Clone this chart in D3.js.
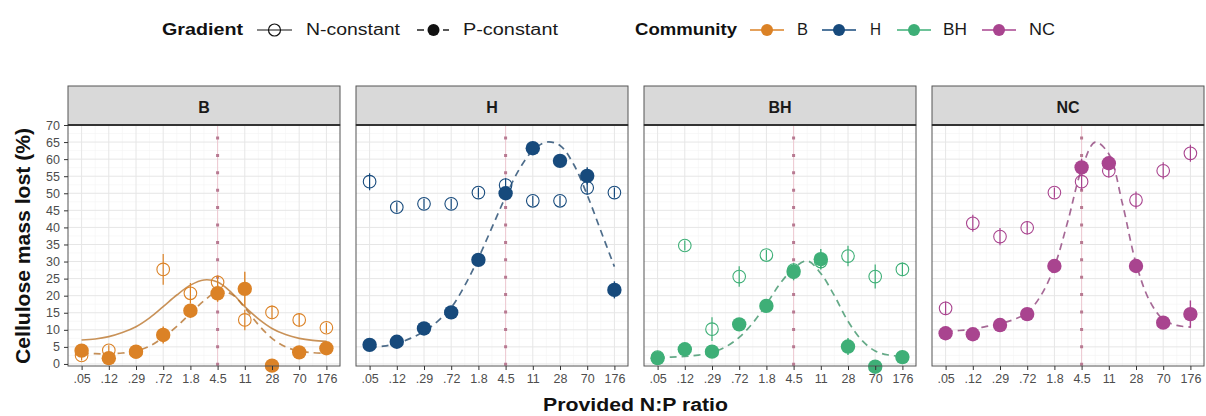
<!DOCTYPE html>
<html>
<head>
<meta charset="utf-8">
<script src="https://cdn.jsdelivr.net/npm/d3@7"></script>
<style>
  html, body { margin: 0; padding: 0; background: #fff; }
  svg { display: block; font-family: "Liberation Sans", Arial, Helvetica, sans-serif; }
</style>
</head>
<body>
<svg id="chart" width="1206" height="416"></svg>
<script>
// ---------------- DATA ----------------
const categories = [".05", ".12", ".29", ".72", "1.8", "4.5", "11", "28", "70", "176"];
const communities = ["B", "H", "BH", "NC"];
const communityColors = ["#DB8226", "#174A7C", "#3EAF77", "#A9448F"];
const yTicks = [0, 5, 10, 15, 20, 25, 30, 35, 40, 45, 50, 55, 60, 65, 70];

// N-constant (open circles) means and errors
const nConstB   = [2.5, 4.0, 3.5, 27.7, 20.7, 23.9, 12.9, 15.1, 12.9, 10.6];
const nErrB     = [1.5, 1.5, 1.0, 4.5, 3.0, 2.0, 3.0, 2.0, 2.0, 1.5];
const nConstH   = [53.4, 45.9, 46.9, 46.9, 50.2, 52.4, 47.8, 47.8, 51.6, 50.2];
const nErrH     = [2.5, 1.5, 1.5, 1.5, 1.5, 2.0, 1.5, 1.5, 2.0, 1.5];
const nConstBH  = [2.0, 34.7, 10.2, 25.6, 31.9, 27.5, 30.0, 31.6, 25.6, 27.7];
const nErrBH    = [1.0, 1.5, 3.5, 3.0, 1.5, 1.5, 2.0, 3.0, 3.5, 2.0];
const nConstNC  = [16.3, 41.2, 37.3, 39.9, 50.2, 53.4, 56.6, 48.0, 56.6, 61.7];
const nErrNC    = [2.0, 2.5, 2.5, 2.0, 1.5, 2.5, 2.0, 2.5, 2.5, 2.5];

// P-constant (filled circles) means and errors
const pConstB   = [3.9, 1.7, 3.6, 8.5, 15.6, 20.7, 22.0, -0.5, 3.4, 4.6];
const pErrB     = [1.5, 1.5, 1.0, 2.5, 2.0, 2.5, 5.0, 1.0, 1.0, 1.5];
const pConstH   = [5.6, 6.5, 10.4, 15.1, 30.5, 50.0, 63.2, 59.5, 55.1, 21.7];
const pErrH     = [1.0, 1.0, 1.0, 1.0, 1.0, 1.5, 1.0, 1.5, 2.5, 2.5];
const pConstBH  = [1.7, 4.3, 3.6, 11.6, 17.0, 27.0, 30.7, 5.1, -0.8, 2.0];
const pErrBH    = [1.5, 1.0, 1.0, 1.0, 1.0, 2.5, 3.0, 2.5, 1.0, 2.0];
const pConstNC  = [9.0, 8.7, 11.4, 14.6, 28.7, 57.6, 58.8, 28.7, 12.1, 14.6];
const pErrNC    = [2.0, 1.0, 1.0, 1.0, 1.5, 2.5, 2.0, 2.0, 1.0, 4.0];

// fitted curves at half-category steps
const curveIndex = [0, 0.5, 1, 1.5, 2, 2.5, 3, 3.5, 4, 4.5, 5, 5.5, 6, 6.5, 7, 7.5, 8, 8.5, 9];
const fitNB  = [7.0, 7.3, 8.0, 9.2, 10.9, 13.5, 16.8, 20.2, 23.1, 24.6, 24.0, 21.0, 16.8, 13.2, 10.4, 8.6, 7.5, 6.9, 6.6];
const fitPB  = [3.2, 3.0, 3.0, 3.2, 3.8, 5.2, 7.8, 11.0, 14.8, 18.5, 21.2, 20.5, 16.5, 11.5, 7.5, 5.0, 3.8, 3.3, 3.1];
const fitPH  = [4.8, 5.2, 6.0, 7.5, 9.5, 12.5, 16.5, 23.0, 31.0, 40.0, 49.0, 57.0, 62.5, 65.0, 64.0, 58.5, 49.5, 39.0, 28.5];
const fitPBH = [2.0, 2.0, 2.2, 2.6, 3.4, 5.0, 7.8, 12.0, 17.5, 23.5, 28.0, 30.2, 26.5, 20.0, 12.5, 7.0, 3.8, 2.6, 2.2];
const fitPNC = [9.5, 9.8, 10.2, 11.0, 11.8, 13.0, 15.0, 20.0, 28.5, 42.0, 57.0, 65.0, 61.5, 47.0, 29.5, 18.5, 13.0, 11.3, 10.8];

const nConst = [nConstB, nConstH, nConstBH, nConstNC];
const nErr   = [nErrB, nErrH, nErrBH, nErrNC];
const pConst = [pConstB, pConstH, pConstBH, pConstNC];
const pErr   = [pErrB, pErrH, pErrBH, pErrNC];
const fitN   = [fitNB, null, null, null];
const fitP   = [fitPB, fitPH, fitPBH, fitPNC];
const refRatio = "4.5";

// ---------------- LAYOUT ----------------
const svg = d3.select("#chart");
const panelW = 272, panelGap = 16, panelLeft0 = 68;
const stripTop = 86, plotTop = 125, plotBottom = 366;
const font = '"Liberation Sans", Arial, Helvetica, sans-serif';

const y = d3.scaleLinear().domain([-0.6, 70]).range([plotBottom, plotTop]);

communities.forEach((comm, ci) => {
  const left = panelLeft0 + ci * (panelW + panelGap);
  const right = left + panelW;
  const color = communityColors[ci];
  const x = d3.scalePoint().domain(categories).range([left, right]).padding(0.5);
  const xi = d3.scaleLinear().domain([0, categories.length - 1])
    .range([x(categories[0]), x(categories[categories.length - 1])]);

  const g = svg.append("g");

  // minor grid
  const minorY = d3.range(2.5, 70, 5);
  g.selectAll(".ymin").data(minorY).join("line")
    .attr("x1", left).attr("x2", right)
    .attr("y1", d => y(d)).attr("y2", d => y(d))
    .attr("stroke", "#F3F3F3").attr("stroke-width", 0.6);
  g.selectAll(".xmin").data(d3.range(0.5, 9, 1)).join("line")
    .attr("x1", d => xi(d)).attr("x2", d => xi(d))
    .attr("y1", plotTop).attr("y2", plotBottom)
    .attr("stroke", "#F3F3F3").attr("stroke-width", 0.6);
  // major grid
  g.selectAll(".ymaj").data(yTicks).join("line")
    .attr("x1", left).attr("x2", right)
    .attr("y1", d => y(d)).attr("y2", d => y(d))
    .attr("stroke", "#E6E6E6").attr("stroke-width", 1);
  g.selectAll(".xmaj").data(categories).join("line")
    .attr("x1", d => x(d)).attr("x2", d => x(d))
    .attr("y1", plotTop).attr("y2", plotBottom)
    .attr("stroke", "#E6E6E6").attr("stroke-width", 1);

  // reference dotted line
  g.append("line")
    .attr("x1", x(refRatio)).attr("x2", x(refRatio))
    .attr("y1", plotTop).attr("y2", plotBottom)
    .attr("stroke", "#F4B6C4").attr("stroke-width", 1).attr("opacity", 0.6);
  g.append("line")
    .attr("x1", x(refRatio)).attr("x2", x(refRatio))
    .attr("y1", plotTop + 11.5).attr("y2", plotBottom)
    .attr("stroke", "#B87A92").attr("stroke-width", 3)
    .attr("stroke-dasharray", "3,14.4");

  // fitted curves
  const line = d3.line().x((d, i) => xi(curveIndex[i])).y(d => y(d)).curve(d3.curveCatmullRom);
  if (fitN[ci]) {
    g.append("path").datum(fitN[ci]).attr("d", line)
      .attr("fill", "none").attr("stroke", d3.color(color).darker(0.5)).attr("stroke-opacity", 0.75)
      .attr("stroke-width", 1.6);
  }
  g.append("path").datum(fitP[ci]).attr("d", line)
    .attr("fill", "none").attr("stroke", d3.color(color).darker(0.6)).attr("stroke-opacity", 0.75)
    .attr("stroke-width", 1.7).attr("stroke-dasharray", "7,5");

  // error bars
  const nData = categories.map((c, i) => ({ c, v: nConst[ci][i], e: nErr[ci][i] }));
  const pData = categories.map((c, i) => ({ c, v: pConst[ci][i], e: pErr[ci][i] }));
  g.selectAll(".nerr").data(nData).join("line")
    .attr("x1", d => x(d.c)).attr("x2", d => x(d.c))
    .attr("y1", d => y(d.v - d.e)).attr("y2", d => y(d.v + d.e))
    .attr("stroke", color).attr("stroke-width", 1.2);
  g.selectAll(".ncirc").data(nData).join("circle")
    .attr("cx", d => x(d.c)).attr("cy", d => y(d.v)).attr("r", 6.3)
    .attr("fill", "none").attr("stroke", color).attr("stroke-width", 1.1);
  g.selectAll(".perr").data(pData).join("line")
    .attr("x1", d => x(d.c)).attr("x2", d => x(d.c))
    .attr("y1", d => y(d.v - d.e)).attr("y2", d => y(d.v + d.e))
    .attr("stroke", color).attr("stroke-width", 1.4);
  g.selectAll(".pcirc").data(pData).join("circle")
    .attr("cx", d => x(d.c)).attr("cy", d => y(d.v)).attr("r", 7.2)
    .attr("fill", color);

  // panel border
  g.append("rect").attr("x", left).attr("y", plotTop).attr("width", panelW)
    .attr("height", plotBottom - plotTop).attr("fill", "none")
    .attr("stroke", "#555").attr("stroke-width", 1);

  // strip
  g.append("rect").attr("x", left).attr("y", stripTop).attr("width", panelW)
    .attr("height", plotTop - stripTop).attr("fill", "#D9D9D9")
    .attr("stroke", "#555").attr("stroke-width", 1);
  g.append("line").attr("x1", left).attr("x2", right).attr("y1", plotTop).attr("y2", plotTop)
    .attr("stroke", "#333").attr("stroke-width", 1.8);
  g.append("text").attr("x", (left + right) / 2).attr("y", 113)
    .attr("text-anchor", "middle").attr("font-weight", "bold").attr("font-size", 16)
    .attr("fill", "#1A1A1A").text(comm);

  // x axis
  const xAxis = g.append("g").attr("transform", `translate(0,${plotBottom})`)
    .call(d3.axisBottom(x).tickSize(4).tickPadding(4));
  xAxis.select(".domain").remove();
  xAxis.selectAll(".tick line").attr("stroke", "#333");
  xAxis.selectAll(".tick text").attr("fill", "#4D4D4D").attr("font-size", 12.5).attr("font-family", font);

  if (ci === 0) {
    const yAxis = g.append("g").attr("transform", `translate(${left},0)`)
      .call(d3.axisLeft(y).tickValues(yTicks).tickSize(4).tickPadding(4));
    yAxis.select(".domain").remove();
    yAxis.selectAll(".tick line").attr("stroke", "#333");
    yAxis.selectAll(".tick text").attr("fill", "#4D4D4D").attr("font-size", 12.5).attr("font-family", font);
  }
});

// axis titles
svg.append("text").attr("transform", "translate(30,246) rotate(-90)")
  .attr("text-anchor", "middle").attr("font-weight", "bold").attr("font-size", 20)
  .attr("fill", "#111").attr("textLength", 236).attr("lengthAdjust", "spacingAndGlyphs")
  .text("Cellulose mass lost (%)");
svg.append("text").attr("x", 635.5).attr("y", 411)
  .attr("text-anchor", "middle").attr("font-weight", "bold").attr("font-size", 18)
  .attr("fill", "#111").attr("textLength", 185).attr("lengthAdjust", "spacingAndGlyphs")
  .text("Provided N:P ratio");

// ---------------- LEGEND ----------------
const legY = 30, legBase = 35;
const leg = svg.append("g");
function legText(x0, w, txt, bold) {
  leg.append("text").attr("x", x0).attr("y", legBase).attr("font-size", 16)
    .attr("font-weight", bold ? "bold" : "normal").attr("fill", bold ? "#111" : "#1A1A1A")
    .attr("textLength", w).attr("lengthAdjust", "spacingAndGlyphs").text(txt);
}
legText(162, 81, "Gradient", true);
// N-constant key: solid line through an open circle
leg.append("line").attr("x1", 257).attr("x2", 292).attr("y1", legY).attr("y2", legY)
  .attr("stroke", "#111").attr("stroke-width", 1.2);
leg.append("circle").attr("cx", 274.5).attr("cy", legY).attr("r", 6)
  .attr("fill", "none").attr("stroke", "#111").attr("stroke-width", 1.2);
legText(306, 94, "N-constant", false);
// P-constant key: dash, filled circle, dash
leg.append("line").attr("x1", 417).attr("x2", 424).attr("y1", legY).attr("y2", legY)
  .attr("stroke", "#111").attr("stroke-width", 1.4);
leg.append("line").attr("x1", 443).attr("x2", 449).attr("y1", legY).attr("y2", legY)
  .attr("stroke", "#111").attr("stroke-width", 1.4);
leg.append("circle").attr("cx", 433.5).attr("cy", legY).attr("r", 6).attr("fill", "#111");
legText(463, 95, "P-constant", false);

legText(635, 102, "Community", true);
const commKeyX = [750, 822, 897, 982];
const commTextX = [797, 870, 943, 1029];
const commTextW = [11, 11, 24, 26];
communities.forEach((c, i) => {
  leg.append("line").attr("x1", commKeyX[i]).attr("x2", commKeyX[i] + 34)
    .attr("y1", legY).attr("y2", legY).attr("stroke", communityColors[i]).attr("stroke-width", 1.4);
  leg.append("circle").attr("cx", commKeyX[i] + 17).attr("cy", legY).attr("r", 6)
    .attr("fill", communityColors[i]);
  legText(commTextX[i], commTextW[i], c, false);
});
</script>
</body>
</html>
